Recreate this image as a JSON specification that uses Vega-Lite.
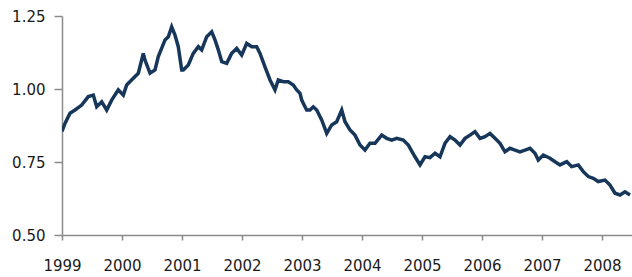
{
  "$schema": "https://vega.github.io/schema/vega-lite/v6.json",
  "width": 570,
  "height": 219,
  "autosize": {"type": "none"},
  "padding": {"left": 62, "top": 16, "right": 0, "bottom": 42},
  "background": "white",
  "config": {"view": {"stroke": null}},
  "data": {"values": [
    {"year": 1999.0, "rate": 0.855},
    {"year": 1999.05, "rate": 0.882},
    {"year": 1999.133, "rate": 0.917},
    {"year": 1999.217, "rate": 0.928},
    {"year": 1999.328, "rate": 0.945},
    {"year": 1999.438, "rate": 0.974},
    {"year": 1999.522, "rate": 0.979},
    {"year": 1999.578, "rate": 0.939},
    {"year": 1999.662, "rate": 0.956},
    {"year": 1999.745, "rate": 0.928},
    {"year": 1999.828, "rate": 0.962},
    {"year": 1999.938, "rate": 0.997},
    {"year": 2000.022, "rate": 0.979},
    {"year": 2000.078, "rate": 1.014},
    {"year": 2000.188, "rate": 1.037},
    {"year": 2000.272, "rate": 1.054},
    {"year": 2000.355, "rate": 1.122},
    {"year": 2000.383, "rate": 1.099},
    {"year": 2000.467, "rate": 1.054},
    {"year": 2000.55, "rate": 1.065},
    {"year": 2000.605, "rate": 1.111},
    {"year": 2000.717, "rate": 1.168},
    {"year": 2000.772, "rate": 1.179},
    {"year": 2000.828, "rate": 1.213},
    {"year": 2000.883, "rate": 1.185},
    {"year": 2000.938, "rate": 1.145},
    {"year": 2000.995, "rate": 1.065},
    {"year": 2001.022, "rate": 1.065},
    {"year": 2001.105, "rate": 1.082},
    {"year": 2001.188, "rate": 1.122},
    {"year": 2001.272, "rate": 1.145},
    {"year": 2001.328, "rate": 1.134},
    {"year": 2001.412, "rate": 1.179},
    {"year": 2001.495, "rate": 1.196},
    {"year": 2001.55, "rate": 1.168},
    {"year": 2001.605, "rate": 1.134},
    {"year": 2001.662, "rate": 1.094},
    {"year": 2001.745, "rate": 1.088},
    {"year": 2001.828, "rate": 1.122},
    {"year": 2001.912, "rate": 1.139},
    {"year": 2001.995, "rate": 1.116},
    {"year": 2002.078, "rate": 1.156},
    {"year": 2002.162, "rate": 1.145},
    {"year": 2002.245, "rate": 1.145},
    {"year": 2002.3, "rate": 1.122},
    {"year": 2002.383, "rate": 1.076},
    {"year": 2002.467, "rate": 1.031},
    {"year": 2002.55, "rate": 0.997},
    {"year": 2002.605, "rate": 1.031},
    {"year": 2002.688, "rate": 1.025},
    {"year": 2002.772, "rate": 1.025},
    {"year": 2002.855, "rate": 1.014},
    {"year": 2002.912, "rate": 0.997},
    {"year": 2002.967, "rate": 0.985},
    {"year": 2002.995, "rate": 0.962},
    {"year": 2003.05, "rate": 0.939},
    {"year": 2003.078, "rate": 0.928},
    {"year": 2003.133, "rate": 0.928},
    {"year": 2003.188, "rate": 0.939},
    {"year": 2003.245, "rate": 0.928},
    {"year": 2003.328, "rate": 0.894},
    {"year": 2003.412, "rate": 0.848},
    {"year": 2003.495, "rate": 0.877},
    {"year": 2003.578, "rate": 0.888},
    {"year": 2003.662, "rate": 0.928},
    {"year": 2003.717, "rate": 0.888},
    {"year": 2003.8, "rate": 0.86},
    {"year": 2003.883, "rate": 0.842},
    {"year": 2003.967, "rate": 0.808},
    {"year": 2004.05, "rate": 0.791},
    {"year": 2004.133, "rate": 0.814},
    {"year": 2004.217, "rate": 0.814},
    {"year": 2004.328, "rate": 0.842},
    {"year": 2004.412, "rate": 0.831},
    {"year": 2004.495, "rate": 0.825},
    {"year": 2004.578, "rate": 0.831},
    {"year": 2004.688, "rate": 0.825},
    {"year": 2004.772, "rate": 0.808},
    {"year": 2004.883, "rate": 0.768},
    {"year": 2004.967, "rate": 0.74},
    {"year": 2005.05, "rate": 0.768},
    {"year": 2005.133, "rate": 0.765},
    {"year": 2005.217, "rate": 0.78},
    {"year": 2005.3, "rate": 0.768},
    {"year": 2005.383, "rate": 0.814},
    {"year": 2005.467, "rate": 0.837},
    {"year": 2005.55, "rate": 0.825},
    {"year": 2005.633, "rate": 0.808},
    {"year": 2005.717, "rate": 0.831},
    {"year": 2005.8, "rate": 0.842},
    {"year": 2005.883, "rate": 0.854},
    {"year": 2005.967, "rate": 0.831},
    {"year": 2006.05, "rate": 0.837},
    {"year": 2006.133, "rate": 0.848},
    {"year": 2006.217, "rate": 0.831},
    {"year": 2006.3, "rate": 0.814},
    {"year": 2006.383, "rate": 0.785},
    {"year": 2006.467, "rate": 0.797},
    {"year": 2006.55, "rate": 0.791},
    {"year": 2006.633, "rate": 0.785},
    {"year": 2006.717, "rate": 0.791},
    {"year": 2006.8, "rate": 0.797},
    {"year": 2006.883, "rate": 0.78},
    {"year": 2006.938, "rate": 0.757},
    {"year": 2007.022, "rate": 0.774},
    {"year": 2007.133, "rate": 0.763},
    {"year": 2007.217, "rate": 0.751},
    {"year": 2007.3, "rate": 0.74},
    {"year": 2007.412, "rate": 0.751},
    {"year": 2007.495, "rate": 0.734},
    {"year": 2007.605, "rate": 0.74},
    {"year": 2007.688, "rate": 0.717},
    {"year": 2007.772, "rate": 0.7},
    {"year": 2007.855, "rate": 0.694},
    {"year": 2007.938, "rate": 0.683},
    {"year": 2008.05, "rate": 0.688},
    {"year": 2008.133, "rate": 0.671},
    {"year": 2008.217, "rate": 0.643},
    {"year": 2008.3, "rate": 0.637},
    {"year": 2008.383, "rate": 0.648},
    {"year": 2008.467, "rate": 0.637}
  ]},
  "mark": {"type": "line", "color": "#17375a", "strokeWidth": 3.5, "strokeJoin": "miter", "clip": true},
  "encoding": {
    "x": {
      "field": "year",
      "type": "quantitative",
      "scale": {"domain": [1999, 2008.5], "nice": false, "zero": false},
      "axis": {
        "title": null,
        "values": [1999, 2000, 2001, 2002, 2003, 2004, 2005, 2006, 2007, 2008],
        "format": "d",
        "grid": false,
        "domainColor": "#8a8a8a",
        "domainWidth": 1.5,
        "tickColor": "#8a8a8a",
        "tickSize": 5,
        "tickWidth": 1.5,
        "labelPadding": 18,
        "labelFont": "DejaVu Sans",
        "labelFontSize": 15,
        "labelColor": "#1a1a1a",
        "labelFlush": false,
        "labelOverlap": false
      }
    },
    "y": {
      "field": "rate",
      "type": "quantitative",
      "scale": {"domain": [0.5, 1.25], "nice": false, "zero": false},
      "axis": {
        "title": null,
        "values": [0.5, 0.75, 1.0, 1.25],
        "format": ".2f",
        "grid": false,
        "domainColor": "#8a8a8a",
        "domainWidth": 1.5,
        "tickColor": "#8a8a8a",
        "tickSize": 8,
        "tickWidth": 1.5,
        "labelPadding": 9,
        "labelFont": "DejaVu Sans",
        "labelFontSize": 15,
        "labelColor": "#1a1a1a",
        "labelFlush": false,
        "labelOverlap": false
      }
    }
  }
}
